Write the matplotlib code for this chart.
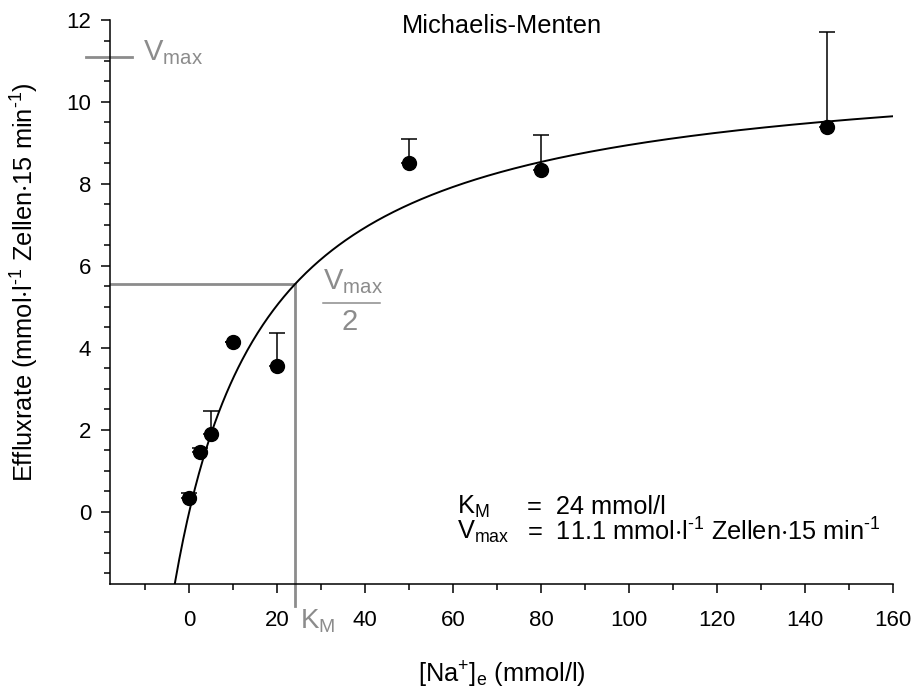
import numpy as np
import matplotlib
matplotlib.use("Agg")
import matplotlib.pyplot as plt

plt.rcParams["font.family"] = ["Liberation Sans", "DejaVu Sans"]
plt.rcParams["mathtext.fontset"] = "custom"
plt.rcParams["mathtext.rm"] = "Liberation Sans"
plt.rcParams["mathtext.it"] = "Liberation Sans"
plt.rcParams["mathtext.default"] = "regular"

# measured efflux vs. external Na+
na_conc = [0, 2.5, 5, 10, 20, 50, 80, 145]
efflux = [0.35, 1.45, 1.9, 4.15, 3.57, 8.5, 8.33, 9.38]
efflux_err = [0.1, 0.1, 0.55, 0.0, 0.8, 0.6, 0.87, 2.32]

# fitted parameters
KM = 24
VMAX = 11.1

GRAY = "#8c8c8c"
FS_TICK = 16
FS_LABEL = 18.3
FS_GRAY = 21

INV = r"$^{\text{-1}}$"

fig = plt.figure(figsize=(9.2, 6.95), dpi=100)
ax = fig.add_axes([0.1196, 0.1597, 0.8511, 0.8115])

# fit curve
xs = np.linspace(-18, 160, 600)
ax.plot(xs, VMAX * xs / (KM + xs), color="black", lw=1.4, zorder=3)

# helper lines for Km and Vmax/2
ax.plot([-18, KM], [VMAX / 2, VMAX / 2], color=GRAY, lw=2, zorder=2)
ax.plot([KM, KM], [VMAX / 2, -2.3], color=GRAY, lw=2, zorder=2, clip_on=False)
ax.plot([-23.4, -13], [VMAX, VMAX], color=GRAY, lw=2, clip_on=False)

ax.errorbar(na_conc, efflux, yerr=[np.zeros(len(efflux_err)), efflux_err],
            fmt="none", ecolor="black", elinewidth=1.1, capsize=6, capthick=1.1, zorder=4)
ax.plot(na_conc, efflux, "o", color="black", ms=10, zorder=5)

ax.set_xlim(-18, 160)
ax.set_ylim(-1.76, 12)
ax.set_xticks(np.arange(0, 161, 20))
ax.set_xticks(np.arange(-10, 161, 10), minor=True)
ax.set_yticks(np.arange(0, 13, 2))
ax.set_yticks(np.arange(-1.5, 12.1, 0.5), minor=True)
ax.tick_params(which="major", length=6.5, width=1.1, labelsize=FS_TICK)
ax.tick_params(which="minor", length=4, width=1.1)
ax.tick_params(axis="x", which="major", pad=12)
ax.tick_params(axis="y", which="major", pad=7)
for side in ["top", "right"]:
    ax.spines[side].set_visible(False)
for side in ["left", "bottom"]:
    ax.spines[side].set_linewidth(1.1)

ax.set_xlabel(r"[Na$^{+}$]$_{e}$ (mmol/l)", fontsize=FS_LABEL)
ax.xaxis.set_label_coords(0.5, -0.135)
fig.text(25 / 920, 1 - 282 / 695,
         r"Effluxrate (mmol$\cdot$l" + INV + r" Zellen$\cdot$15 min" + INV + ")",
         fontsize=FS_LABEL, rotation=90, ha="center", va="center")

ax.text(0.5, 0.99, "Michaelis-Menten", transform=ax.transAxes,
        ha="center", va="center", fontsize=FS_LABEL)

# gray labels for the constants
ax.text(-10.5, VMAX + 0.1, r"V$_{max}$", color=GRAY, fontsize=FS_GRAY,
        ha="left", va="center", clip_on=False)
ax.text(KM + 1.2, -2.66, r"K$_{M}$", color=GRAY, fontsize=FS_GRAY - 1,
        ha="left", va="center", clip_on=False)
ax.text(30.5, VMAX / 2 + 0.08, r"V$_{max}$", color=GRAY, fontsize=FS_GRAY,
        ha="left", va="center")
ax.plot([30.5, 43.4], [5.1, 5.1], color=GRAY, lw=1.1)
ax.text(36.4, 4.63, "2", color=GRAY, fontsize=FS_GRAY, ha="center", va="center")

# parameter summary
ax.text(60.9, 0.12, r"K$_{M}$", fontsize=FS_LABEL, ha="left", va="center")
ax.text(76.8, 0.12, "=  24 mmol/l", fontsize=FS_LABEL, ha="left", va="center")
ax.text(60.9, -0.49, r"V$_{max}$", fontsize=FS_LABEL, ha="left", va="center")
ax.text(76.8, -0.49, r"=  11.1 mmol$\cdot$l" + INV + r" Zellen$\cdot$15 min" + INV,
        fontsize=FS_LABEL, ha="left", va="center")

fig.savefig("out.png", dpi=100)
